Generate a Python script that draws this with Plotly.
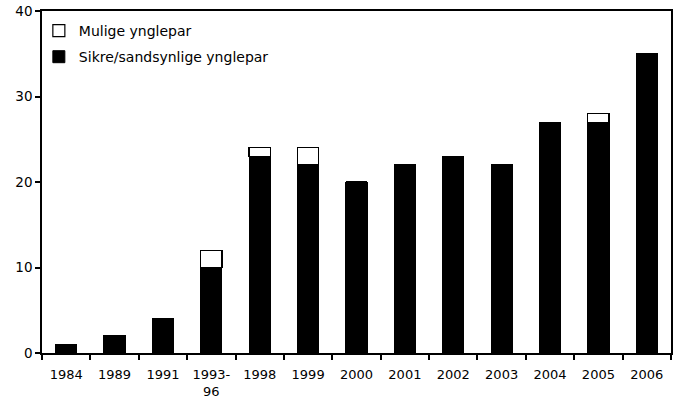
import plotly.graph_objects as go

categories = ["1984", "1989", "1991", "1993-96", "1998", "1999", "2000", "2001", "2002", "2003", "2004", "2005", "2006"]
tick_labels = ["1984", "1989", "1991", "1993-<br>96", "1998", "1999", "2000", "2001", "2002", "2003", "2004", "2005", "2006"]
sikre = [1, 2, 4, 10, 23, 22, 20, 22, 23, 22, 27, 27, 35]
mulige = [0, 0, 0, 2, 1, 2, 0, 0, 0, 0, 0, 1, 0]

FONT = "DejaVu Sans, Verdana, sans-serif"

fig = go.Figure()
fig.add_trace(go.Bar(
    x=categories, y=sikre, name="Sikre/sandsynlige ynglepar",
    marker=dict(color="black", line=dict(color="black", width=1)),
    width=0.44, legend="legend2",
))
fig.add_trace(go.Bar(
    x=categories, y=mulige, name="Mulige ynglepar",
    marker=dict(color="white", line=dict(color="black", width=1.2)),
    width=0.44, legend="legend",
))

fig.update_layout(
    barmode="stack",
    width=679, height=401,
    margin=dict(l=42, r=8, t=11, b=48, autoexpand=False),
    plot_bgcolor="white", paper_bgcolor="white",
    font=dict(family=FONT, size=13, color="black"),
    showlegend=True,
    legend=dict(x=-0.005, y=0.988, xanchor="left", yanchor="top",
                bgcolor="rgba(0,0,0,0)", font=dict(size=14), itemwidth=30),
    legend2=dict(x=-0.005, y=0.912, xanchor="left", yanchor="top",
                 bgcolor="rgba(0,0,0,0)", font=dict(size=14), itemwidth=30),
    bargap=0.5,
)
fig.update_xaxes(
    type="category", tickvals=categories, ticktext=tick_labels,
    tickson="boundaries", ticks="outside", ticklen=5, tickwidth=1.5, tickcolor="black",
    showline=True, linecolor="black", linewidth=1.5, mirror=True,
    showgrid=False, zeroline=False, tickfont=dict(size=13), automargin=False,
    ticklabelstandoff=9,
)
fig.update_yaxes(
    range=[0, 40], dtick=10, ticks="outside", ticklen=5, tickwidth=1.5, tickcolor="black",
    showline=True, linecolor="black", linewidth=1.5, mirror=True,
    showgrid=False, zeroline=False, tickfont=dict(size=13.5), automargin=False,
)

fig.write_html("out.html", config={"displayModeBar": False},
               post_script="document.body.style.margin='0';document.body.style.overflow='hidden';")
